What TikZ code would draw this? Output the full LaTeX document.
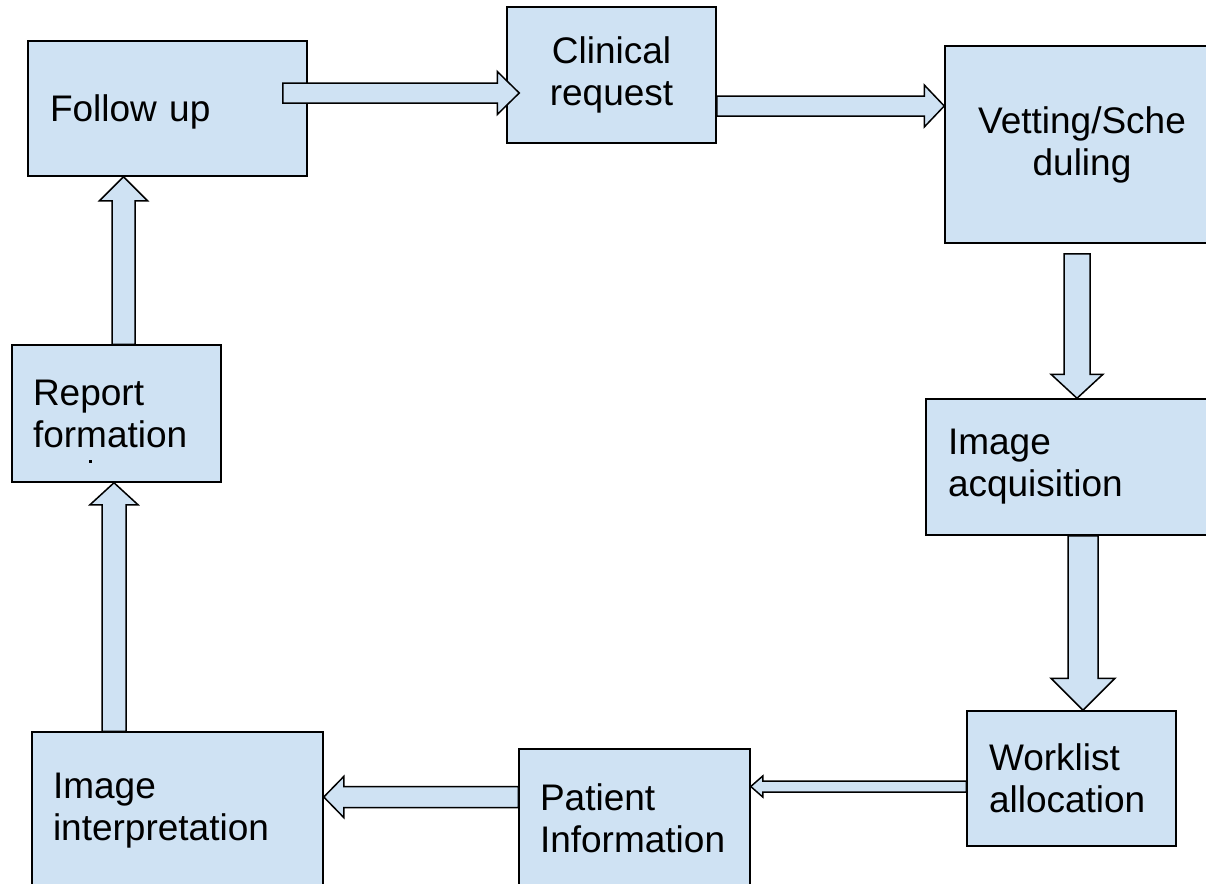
\documentclass[tikz,border=0pt]{standalone}
\usepackage{fontspec}
\setmainfont{Liberation Sans}
\usepackage{xcolor}
\usepackage{tikz}
\usetikzlibrary{positioning,calc}
\definecolor{boxblue}{HTML}{CFE2F3}
\tikzset{cycle/.style={x=1pt,y=-1pt,line width=1.5pt,line join=miter},
    stage/.style={rectangle,draw=black,fill=boxblue,inner ysep=0pt,
        font=\fontsize{37pt}{42pt}\selectfont},
    stage left/.style={stage,align=left},
    stage mid/.style={stage,align=center},
    flow/.style={draw=black,fill=boxblue,line width=1.5pt}}
\newcommand{\blockarrow}[5]{%
    \coordinate (ba-a) at #4;
    \coordinate (ba-b) at #5;
    \coordinate (ba-c) at ($(ba-b)!#3!(ba-a)$);
    \draw[flow] ($(ba-a)!#1!90:(ba-b)$) -- ($(ba-c)!#1!-90:(ba-a)$)
        -- ($(ba-c)!#2!-90:(ba-a)$) -- (ba-b) -- ($(ba-c)!#2!90:(ba-a)$)
        -- ($(ba-c)!#1!90:(ba-a)$) -- ($(ba-a)!#1!-90:(ba-b)$) -- cycle;}
\begin{document}
\begin{tikzpicture}[cycle]
    \useasboundingbox (0,0) rectangle (1206,883);
    \clip (0,0) rectangle (1206,883);
    \node[stage left](fol) at (167.5,108.5)[inner xsep=22pt, text width=235pt, text depth=0pt, minimum height=135pt]{Follow up};
    \node[stage mid](cli) at (611.5,75)[minimum width=209pt, minimum height=136pt]{Clinical\\request};
    \node[stage mid](vet) at (1082,144.5)[minimum width=274pt, minimum height=197pt]{Vetting/Sche\\duling};
    \node[stage left](acq) at (1070.5,467)[inner xsep=22pt, text width=245pt, minimum height=136pt]{Image\\acquisition};
    \node[stage left](wor) at (1071.5,778.5)[inner xsep=22pt, text width=165pt, minimum height=135pt]{Worklist\\allocation};
    \node[stage left](pat) at (634.5,818.5)[inner xsep=21pt, text width=189pt, minimum height=139pt]{Patient\\Information};
    \node[stage left](int) at (177.5,811)[inner xsep=21pt, text width=249pt, minimum height=158pt]{Image\\interpretation};
    \node[stage left](rep) at (116.5,413.5)[inner xsep=21pt, text width=167pt, minimum height=137pt]{Report\\formation};
    \fill (88.5,459.5) rectangle (91.5,462.5);

    \blockarrow{10pt}{21.5pt}{22pt}{($(fol.east)+(-25,-15.5)$)}{($(cli.west)+(13,18)$)}
    \blockarrow{10pt}{21pt}{20pt}{($(cli.east)+(0,31)$)}{($(vet.west)+(0,-38.5)$)}
    \blockarrow{13pt}{26pt}{24pt}{($(vet.south)+(-5,10)$)}{($(acq.north)+(6.5,0)$)}
    \blockarrow{15pt}{32pt}{32pt}{($(acq.south)+(12.5,0)$)}{($(wor.north)+(11.5,0)$)}
    \blockarrow{5.5pt}{10.5pt}{12pt}{($(wor.west)+(0,8)$)}{($(pat.east)+(0,-32)$)}
    \blockarrow{10.5pt}{20.5pt}{20pt}{($(pat.west)+(0,-21.5)$)}{($(int.east)+(0,-14)$)}
    \blockarrow{12pt}{24pt}{22pt}{($(int.north)+(-63.5,0)$)}{($(rep.south)+(-2.5,0)$)}
    \blockarrow{11.5pt}{24pt}{24pt}{($(rep.north)+(7,0)$)}{($(fol.south)+(-44,0)$)}
\end{tikzpicture}
\end{document}
